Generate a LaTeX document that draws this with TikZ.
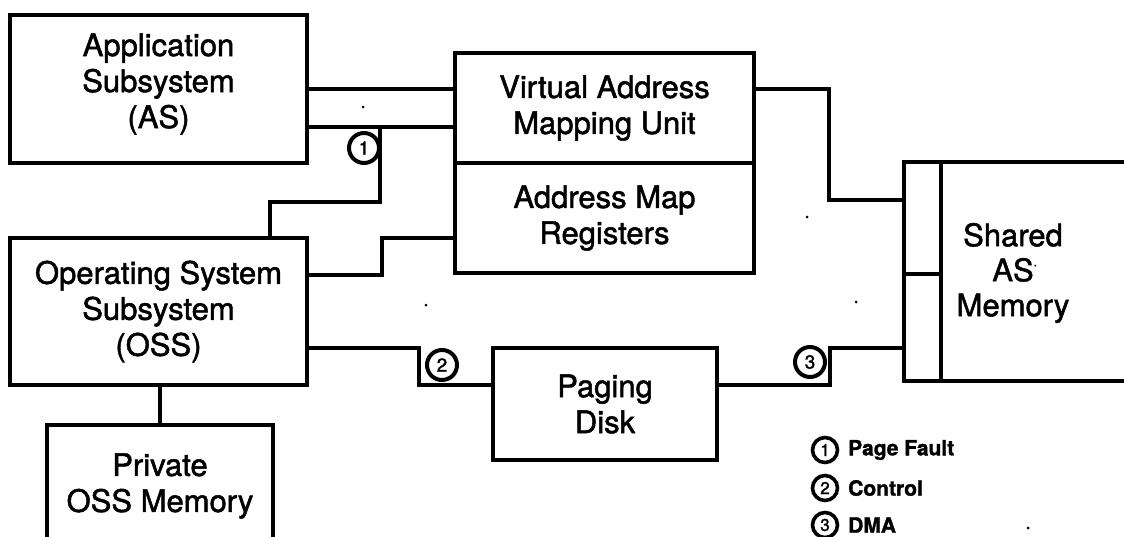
\documentclass[tikz,border=0pt]{standalone}
\usepackage{fontspec}
\setmainfont{TeX Gyre Heros}
\newfontfamily\heavy{TeX Gyre Heros}[FakeBold=1.6]
\newfontfamily\keyfont{TeX Gyre Heros Bold}[FakeBold=1.4]
\begin{document}
\begin{tikzpicture}[x=1pt,y=-1pt,
  box/.style={draw, line width=3.5pt, inner sep=0pt, outer sep=0pt,
    align=center, font=\heavy\fontsize{31}{36}\selectfont},
  wire/.style={line width=3.5pt},
  num/.style={draw, circle, line width=4pt, minimum size=30pt, inner sep=0pt,
    fill=white, font=\heavy\fontsize{19}{19}\selectfont},
  keynum/.style={draw, circle, line width=3.6pt, minimum size=25pt, inner sep=0pt,
    font=\heavy\fontsize{17}{17}\selectfont},
  keytext/.style={anchor=west, inner sep=0pt, font=\keyfont\fontsize{21}{21}\selectfont},
  speck/.style={fill, circle, inner sep=0pt, minimum size=3pt}]
\useasboundingbox (0,0) rectangle (1124,536);
\clip (0,0) rectangle (1124,536);

% blocks
\node[box, minimum width=297pt, minimum height=148pt] (as) at (158.5,89) {};
\node[align=center, font=\heavy\fontsize{31}{36}\selectfont] (astext) at (158.5,84)
  {Application\\Subsystem\\(AS)};
\node[box, minimum width=299pt, minimum height=110pt] (vamu) at (604.5,108)
  {Virtual Address\\Mapping Unit};
\node[box, minimum width=299pt, minimum height=110pt] (amr) at (604.5,218)
  {Address Map\\Registers};
\node[box, minimum width=297pt, minimum height=147pt] (oss) at (158.5,311.5)
  {Operating System\\Subsystem\\(OSS)};
\node[box, minimum width=224pt, minimum height=112pt] (pd) at (605,404)
  {Paging\\Disk};
\node[box, minimum width=226pt, minimum height=122pt] (pm) at (160,486)
  {Private\\OSS Memory};
\node[box, minimum width=236pt, minimum height=219pt] (sh) at (1022,271.5) {};
\node[align=center, font=\heavy\fontsize{31}{35}\selectfont] (shtext) at (1013,273)
  {Shared\\AS\rlap{\raisebox{15pt}{\fontsize{12}{12}\selectfont .}}\\Memory};

% port strip on the shared memory
\draw[wire] ([xshift=37pt]sh.north west) -- ([xshift=37pt]sh.south west);
\draw[wire] ([yshift=-2.5pt]sh.west) -- ([xshift=37pt,yshift=-2.5pt]sh.west);

% AS to mapping unit
\draw[wire] (as.east) -- (as.east -| vamu.west);
\draw[wire] ([yshift=-38pt]as.east) coordinate (asl) -- (asl -| vamu.west);

% page fault path from the AS bus to the OSS
\coordinate (pfa) at (380,127);
\coordinate (pfb) at (270,202);
\draw[wire] (pfa) |- (pfb) -- (pfb |- oss.north);

% OSS to address map registers
\coordinate (oa) at (382,238);
\draw[wire] ([yshift=36.5pt]oss.east) -| (oa) -- (oa -| amr.west);

% mapping unit to shared memory
\coordinate (vs) at (829,200);
\draw[wire] ([yshift=19pt]vamu.east) -| (vs) -- (vs -| sh.west);

% OSS control to paging disk
\coordinate (op) at (419,385);
\draw[wire] ([yshift=-36.5pt]oss.east) -| (op) -- (op -| pd.west);

% paging disk DMA to shared memory
\coordinate (ps) at (830,348);
\draw[wire] ([yshift=19pt]pd.east) -| (ps) -- (ps -| sh.west);

% OSS to private memory
\draw[wire] (pm.north |- oss.south) -- (pm.north);

% path markers
\node[num] (c1) at (364,148) {1};
\node[num] (c2) at (442,365) {2};
\node[num] (c3) at (810,362) {3};

% key
\node[keynum] (k1) at (825,450) {1};
\node[keytext] (t1) at (848,450) {Page Fault};
\node[keynum] (k2) at (825,488) {2};
\node[keytext] (t2) at (848,488) {Control};
\node[keynum] (k3) at (825,525) {3};
\node[keytext] (t3) at (848,525) {DMA};

% small specks
\node[speck] (s1) at (363,107) {};
\node[speck] (s2) at (807,217) {};
\node[speck] (s3) at (426,305) {};
\node[speck] (s4) at (856,302) {};
\node[speck] (s5) at (1028,528) {};
\end{tikzpicture}
\end{document}
